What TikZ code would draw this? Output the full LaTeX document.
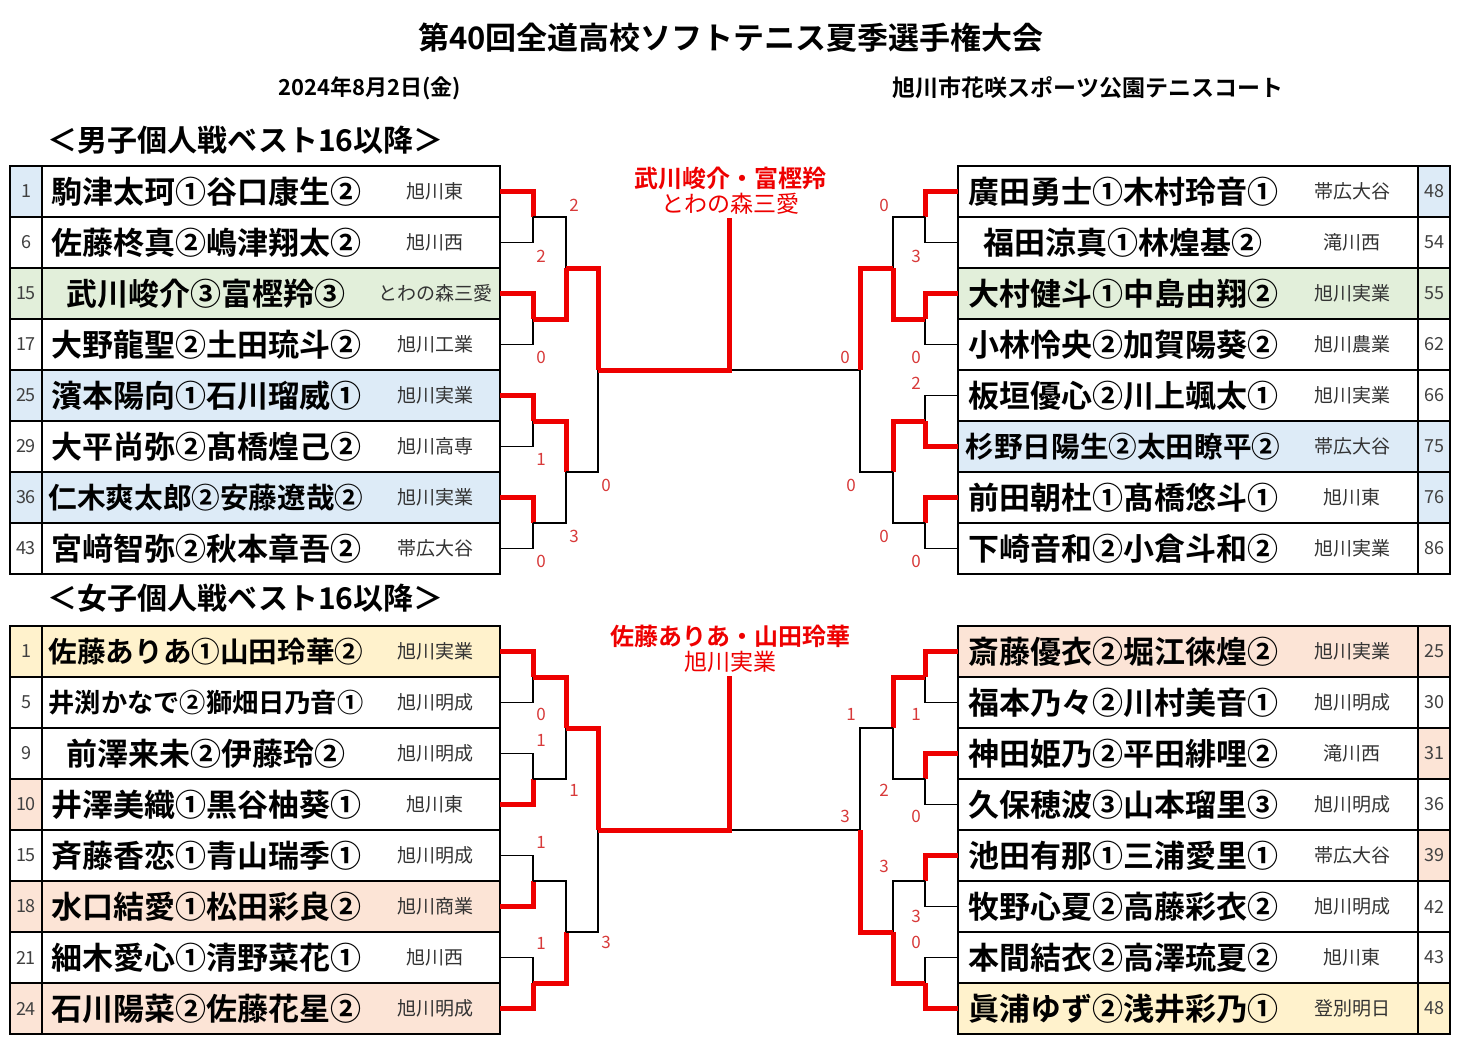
\documentclass[tikz,border=0pt]{standalone}
\usepackage{fontspec}
\usepackage{graphicx}
\setmainfont{Noto Sans CJK JP}
\newfontfamily\jpb{Noto Sans CJK JP Bold}
\definecolor{bl}{HTML}{DDEBF7}
\definecolor{gr}{HTML}{E2EFDA}
\definecolor{pe}{HTML}{FCE4D6}
\definecolor{ye}{HTML}{FFF2CC}
\definecolor{lr}{HTML}{EE0000}
\definecolor{sc}{HTML}{D83A3A}
\newcommand\fitname[1]{\sbox0{#1}\ifdim\wd0>315pt \resizebox{315pt}{!}{#1}\else #1\fi}
\newcommand\mt[5]{%
  \draw[bk] (#1,#3)--(#2,#3)--(#2,#4)--(#1,#4);
  \pgfmathsetmacro\ymid{(#3+#4)/2}
  \ifnum#5=1 \def\yw{#3}\else \def\yw{#4}\fi
  \draw[rd] (#1,\yw)--(#2,\yw)--(#2,\ymid);}
\tikzset{bk/.style={black,line width=1.8pt},rd/.style={lr,line width=5pt,line join=miter},
  cell/.style={draw=black,line width=1.8pt},
  nm/.style={font=\jpb\fontsize{31}{31}\selectfont},
  sch/.style={font=\fontsize{19}{19}\selectfont,text=black!80},
  num/.style={font=\fontsize{18}{18}\selectfont,text=black!75},
  scr/.style={font=\fontsize{17}{17}\selectfont,text=sc}}
\begin{document}
\begin{tikzpicture}[x=1pt,y=-1pt]
\useasboundingbox[fill=white] (0,0) rectangle (1461,1050);
% titles
\node[font=\jpb\fontsize{31}{31}\selectfont] (title) at (731,38) {第40回全道高校ソフトテニス夏季選手権大会};
\node[font=\jpb\fontsize{22}{22}\selectfont] (date) at (370,88) {2024年8月2日(金)};
\node[font=\jpb\fontsize{23}{23}\selectfont] (venue) at (1088,88) {旭川市花咲スポーツ公園テニスコート};
\node[font=\jpb\fontsize{30}{30}\selectfont,anchor=west] (hm) at (44,140) {＜男子個人戦ベスト16以降＞};
\node[font=\jpb\fontsize{30}{30}\selectfont,anchor=west] (hw) at (44,598) {＜女子個人戦ベスト16以降＞};
% left tables
\foreach \k/\n/\nm/\s/\nf/\rf/\t in {
 0/1/{駒津太珂①谷口康生②}/旭川東/bl/white/166,
 1/6/{佐藤柊真②嶋津翔太②}/旭川西/white/white/166,
 2/15/{武川峻介③富樫羚③}/とわの森三愛/gr/gr/166,
 3/17/{大野龍聖②土田琉斗②}/旭川工業/white/white/166,
 4/25/{濱本陽向①石川瑠威①}/旭川実業/bl/bl/166,
 5/29/{大平尚弥②髙橋煌己②}/旭川高専/white/white/166,
 6/36/{仁木爽太郎②安藤遼哉②}/旭川実業/bl/bl/166,
 7/43/{宮﨑智弥②秋本章吾②}/帯広大谷/white/white/166,
 0/1/{佐藤ありあ①山田玲華②}/旭川実業/ye/ye/626,
 1/5/{井渕かなで②獅畑日乃音①}/旭川明成/white/white/626,
 2/9/{前澤来未②伊藤玲②}/旭川明成/white/white/626,
 3/10/{井澤美織①黒谷柚葵①}/旭川東/pe/white/626,
 4/15/{斉藤香恋①青山瑞季①}/旭川明成/white/white/626,
 5/18/{水口結愛①松田彩良②}/旭川商業/pe/pe/626,
 6/21/{細木愛心①清野菜花①}/旭川西/white/white/626,
 7/24/{石川陽菜②佐藤花星②}/旭川明成/pe/pe/626}{
 \pgfmathsetmacro\yt{\t+51*\k}
 \fill[\rf] (42,\yt) rectangle (500,\yt+51);
 \fill[\nf] (10,\yt) rectangle (42,\yt+51);
 \draw[cell] (10,\yt) rectangle (42,\yt+51) (42,\yt) rectangle (500,\yt+51);
 \node[num] at (26,\yt+25.5) {\n};
 \node[nm] at (206,\yt+25.5) {\fitname{\nm}};
 \node[sch] at (435,\yt+25.5) {\s};
}
% right tables
\foreach \k/\n/\nm/\s/\nf/\rf/\t in {
 0/48/{廣田勇士①木村玲音①}/帯広大谷/bl/white/166,
 1/54/{福田涼真①林煌基②}/滝川西/white/white/166,
 2/55/{大村健斗①中島由翔②}/旭川実業/gr/gr/166,
 3/62/{小林怜央②加賀陽葵②}/旭川農業/white/white/166,
 4/66/{板垣優心②川上颯太①}/旭川実業/white/white/166,
 5/75/{杉野日陽生②太田瞭平②}/帯広大谷/bl/bl/166,
 6/76/{前田朝杜①髙橋悠斗①}/旭川東/bl/white/166,
 7/86/{下崎音和②小倉斗和②}/旭川実業/white/white/166,
 0/25/{斎藤優衣②堀江徠煌②}/旭川実業/pe/pe/626,
 1/30/{福本乃々②川村美音①}/旭川明成/white/white/626,
 2/31/{神田姫乃②平田緋哩②}/滝川西/pe/white/626,
 3/36/{久保穂波③山本瑠里③}/旭川明成/white/white/626,
 4/39/{池田有那①三浦愛里①}/帯広大谷/pe/white/626,
 5/42/{牧野心夏②高藤彩衣②}/旭川明成/white/white/626,
 6/43/{本間結衣②高澤琉夏②}/旭川東/white/white/626,
 7/48/{眞浦ゆず②浅井彩乃①}/登別明日/ye/ye/626}{
 \pgfmathsetmacro\yt{\t+51*\k}
 \fill[\rf] (958,\yt) rectangle (1418,\yt+51);
 \fill[\nf] (1418,\yt) rectangle (1450,\yt+51);
 \draw[cell] (958,\yt) rectangle (1418,\yt+51) (1418,\yt) rectangle (1450,\yt+51);
 \node[num] at (1434,\yt+25.5) {\n};
 \node[nm] at (1123,\yt+25.5) {\fitname{\nm}};
 \node[sch] at (1352,\yt+25.5) {\s};
}
% ===== men left =====
\mt{500}{533}{191.5}{242.5}{1}
\mt{500}{533}{293.5}{344.5}{1}
\mt{500}{533}{395.5}{446.5}{1}
\mt{500}{533}{497.5}{548.5}{1}
\mt{533}{566}{217}{319}{2}
\mt{533}{566}{421}{523}{1}
\mt{566}{598}{268}{472}{1}
\draw[bk] (729,370)--(860,370);
\draw[rd] (598,370)--(729,370)--(729,218);
% ===== men right =====
\mt{958}{925}{191.5}{242.5}{1}
\mt{958}{925}{293.5}{344.5}{1}
\mt{958}{925}{395.5}{446.5}{2}
\mt{958}{925}{497.5}{548.5}{1}
\mt{925}{893}{217}{319}{2}
\mt{925}{893}{421}{523}{1}
\mt{893}{860}{268}{472}{1}
% ===== women left =====
\mt{500}{533}{651.5}{702.5}{1}
\mt{500}{533}{753.5}{804.5}{2}
\mt{500}{533}{855.5}{906.5}{2}
\mt{500}{533}{957.5}{1008.5}{2}
\mt{533}{566}{677}{779}{1}
\mt{533}{566}{881}{983}{2}
\mt{566}{598}{728}{932}{1}
\draw[bk] (729,830)--(860,830);
\draw[rd] (598,830)--(729,830)--(729,676);
% ===== women right =====
\mt{958}{925}{651.5}{702.5}{1}
\mt{958}{925}{753.5}{804.5}{1}
\mt{958}{925}{855.5}{906.5}{1}
\mt{958}{925}{957.5}{1008.5}{2}
\mt{925}{893}{677}{779}{1}
\mt{925}{893}{881}{983}{2}
\mt{893}{860}{728}{932}{2}
% champions
\node[font=\jpb\fontsize{24}{24}\selectfont,text=lr] (c1) at (730,178) {武川峻介・富樫羚};
\node[font=\fontsize{23}{23}\selectfont,text=lr] (c1s) at (730,204) {とわの森三愛};
\node[font=\jpb\fontsize{24}{24}\selectfont,text=lr] (c2) at (730,636) {佐藤ありあ・山田玲華};
\node[font=\fontsize{23}{23}\selectfont,text=lr] (c2s) at (730,662) {旭川実業};
% scores
\foreach \x/\y/\v in {574/205/2,541/256/2,541/357/0,541/459/1,606/485/0,574/536/3,541/561/0,
 884/205/0,916/256/3,845/357/0,916/357/0,916/383/2,851/485/0,884/536/0,916/561/0,
 541/714/0,541/740/1,574/790/1,541/842/1,541/943/1,606/942/3,
 851/714/1,916/714/1,884/790/2,916/816/0,845/816/3,884/866/3,916/916/3,916/942/0}
 \node[scr] at (\x,\y) {\v};
\end{tikzpicture}
\end{document}
